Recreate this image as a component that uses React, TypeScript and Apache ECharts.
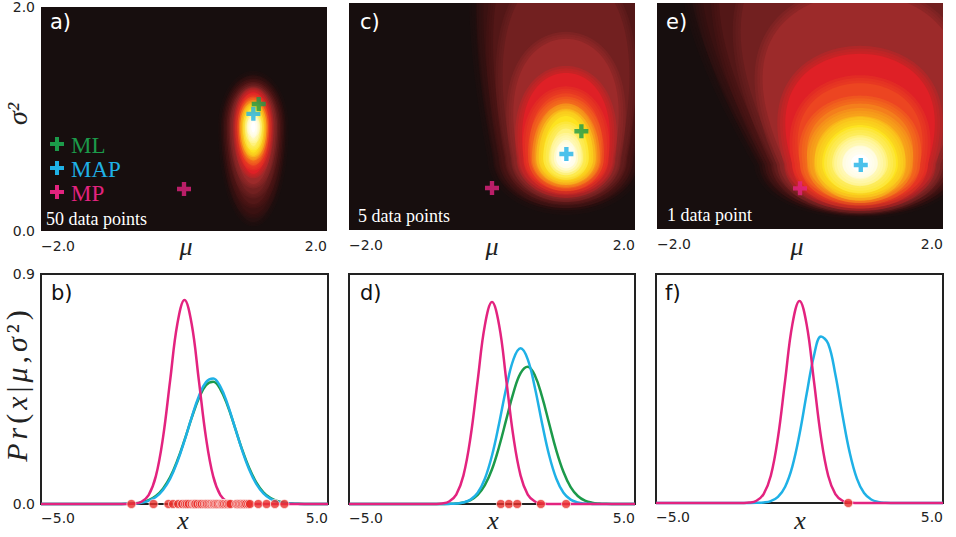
import { useEffect, useRef } from 'react';
import * as echarts from 'echarts';

// x positions at which every density curve in the bottom row is sampled
const X_SAMPLES = [-5, -3, -2.75, -2.5, -2.25, -2, -1.75, -1.5, -1.25, -1, -0.75, -0.5, -0.25, 0, 0.25, 0.5, 0.75, 1, 1.25, 1.5, 1.75, 2, 2.25, 2.5, 2.75, 3, 3.25, 3.5, 3.75, 4, 4.25, 4.5, 5];

// densities, 50 data points
const B_MP = [0, 0, 0, 0, 0, 0.0003, 0.0017, 0.0089, 0.035, 0.108, 0.259, 0.484, 0.704, 0.798, 0.704, 0.484, 0.259, 0.108, 0.035, 0.0089, 0.0017, 0.0003, 0, 0, 0, 0, 0, 0, 0, 0, 0, 0, 0];
const B_ML = [0, 0, 0, 0.0001, 0.0003, 0.0009, 0.0025, 0.0064, 0.0147, 0.031, 0.06, 0.105, 0.17, 0.25, 0.337, 0.414, 0.465, 0.478, 0.449, 0.385, 0.302, 0.216, 0.142, 0.085, 0.046, 0.023, 0.0106, 0.0044, 0.0017, 0.0006, 0.0002, 0, 0];
const B_MAP = [0, 0, 0, 0, 0.0002, 0.0007, 0.0019, 0.0051, 0.0124, 0.027, 0.055, 0.099, 0.165, 0.248, 0.339, 0.422, 0.477, 0.491, 0.459, 0.391, 0.302, 0.213, 0.136, 0.079, 0.042, 0.02, 0.0088, 0.0035, 0.0013, 0.0004, 0.0001, 0, 0];

// densities, 5 data points
const D_MP = [0, 0, 0, 0, 0, 0.0003, 0.002, 0.0096, 0.037, 0.111, 0.262, 0.484, 0.699, 0.79, 0.699, 0.484, 0.262, 0.111, 0.037, 0.0096, 0.002, 0.0003, 0, 0, 0, 0, 0, 0, 0, 0, 0, 0, 0];
const D_ML = [0, 0, 0, 0, 0, 0, 0.0002, 0.0006, 0.002, 0.0059, 0.0154, 0.0357, 0.0738, 0.136, 0.225, 0.331, 0.436, 0.512, 0.537, 0.503, 0.42, 0.314, 0.209, 0.125, 0.066, 0.0314, 0.0133, 0.005, 0.0017, 0.0005, 0.0001, 0, 0];
const D_MAP = [0, 0, 0, 0, 0, 0, 0.0001, 0.0004, 0.0017, 0.0058, 0.017, 0.044, 0.099, 0.19, 0.316, 0.455, 0.566, 0.609, 0.566, 0.455, 0.316, 0.19, 0.099, 0.044, 0.017, 0.0058, 0.0017, 0.0004, 0.0001, 0, 0, 0, 0];

// densities, 1 data point
const F_MP = [0, 0, 0, 0, 0, 0.0003, 0.0017, 0.0088, 0.035, 0.107, 0.258, 0.482, 0.701, 0.794, 0.701, 0.482, 0.258, 0.107, 0.035, 0.0088, 0.0017, 0.0003, 0, 0, 0, 0, 0, 0, 0, 0, 0, 0, 0];
const F_MAP = [0, 0, 0, 0, 0, 0, 0, 0.0005, 0.0021, 0.0077, 0.024, 0.064, 0.143, 0.27, 0.429, 0.577, 0.654, 0.626, 0.505, 0.344, 0.198, 0.096, 0.039, 0.0136, 0.004, 0.001, 0.0002, 0, 0, 0, 0, 0, 0];

// observed samples
const POINTS_50 = [-1.85, -1.08, -0.56, -0.4, -0.22, -0.08, 0.02, 0.08, 0.15, 0.25, 0.32, 0.35, 0.38, 0.45, 0.54, 0.6, 0.68, 0.74, 0.78, 0.84, 0.9, 0.95, 1.0, 1.02, 1.07, 1.12, 1.16, 1.22, 1.27, 1.3, 1.33, 1.38, 1.44, 1.49, 1.55, 1.6, 1.8, 1.85, 1.9, 1.95, 2.0, 2.05, 2.1, 2.15, 2.22, 2.28, 2.57, 2.86, 3.15, 3.48];
const POINTS_5 = [0.31, 0.59, 0.88, 1.71, 2.59];
const POINTS_1 = [1.7];

// posterior over (mu, sigma^2) as nested bands, outermost first:
// [half-width in mu, extent below centre, extent above centre, upward flare]
const POST_A_CENTER = [0.97, 0.93];
const POST_A_BANDS = [
  [0.43, 0.85, 0.46, 0], [0.39, 0.78, 0.42, 0], [0.35, 0.69, 0.39, 0], [0.31, 0.6, 0.36, 0],
  [0.27, 0.51, 0.33, 0], [0.22, 0.42, 0.31, 0], [0.19, 0.35, 0.26, 0], [0.16, 0.3, 0.23, 0],
  [0.14, 0.26, 0.2, 0], [0.12, 0.23, 0.175, 0], [0.085, 0.17, 0.12, 0], [0.055, 0.105, 0.08, 0],
  [0.03, 0.05, 0.045, 0],
];
const POST_C_CENTER = [1.035, 0.634];
const POST_C_BANDS = [
  [1.0, 0.44, 2.98, 0.9], [0.92, 0.4, 2.63, 0.9], [0.84, 0.38, 2.19, 0.8], [0.755, 0.35, 1.67, 0.7],
  [0.67, 0.325, 1.05, 0.5], [0.59, 0.29, 0.75, 0.3], [0.5, 0.255, 0.57, 0.2], [0.43, 0.23, 0.48, 0.1],
  [0.38, 0.2, 0.42, 0], [0.32, 0.175, 0.37, 0], [0.22, 0.13, 0.26, 0], [0.14, 0.09, 0.16, 0],
  [0.07, 0.05, 0.08, 0],
];
const POST_E_CENTER = [0.84, 0.58];
const POST_E_BANDS = [
  [1.37, 0.42, 3.0, 2], [1.3, 0.4, 2.83, 1.9], [1.22, 0.39, 2.57, 1.7], [1.13, 0.38, 2.12, 1.4],
  [1.05, 0.37, 1.5, 1.0], [0.95, 0.35, 0.97, 0.5], [0.84, 0.33, 0.71, 0.3], [0.73, 0.3, 0.53, 0.2],
  [0.63, 0.28, 0.42, 0.1], [0.53, 0.26, 0.34, 0], [0.39, 0.195, 0.25, 0], [0.25, 0.13, 0.16, 0],
  [0.13, 0.07, 0.08, 0],
];

// point estimates [mu, sigma^2]
const A_ML = [1.045, 1.134];
const A_MAP = [0.97, 1.046];
const A_MP = [0.0, 0.375];
const C_ML_EST = [1.25, 0.87];
const C_MAP_EST = [1.04, 0.67];
const C_MP_EST = [0.0, 0.37];
const E_MAP = [0.85, 0.566];
const E_MP = [0.0, 0.36];

// colour of each band, outermost first
const LEVEL_COLORS = ['#261010', '#3a1111', '#531717', '#722020', '#9c2a2a', '#df2026', '#ec4521', '#f47e1c', '#f9b51a', '#fde320', '#fff27c', '#fffbd4', '#ffffff'];
const COL_ML = '#1c9a4a';
const COL_MAP = '#1fb1e6';
const COL_MP = '#e3237f';
const COL_DOT = '#e8302a';
const HEAT_BG = '#170e0e';

const PLUS = 'path://M5.5,0H10.5V5.5H16V10.5H10.5V16H5.5V10.5H0V5.5H5.5Z';
const SERIF = '"Liberation Serif", "Times New Roman", serif';
const SANS = '"DejaVu Sans", sans-serif';

const fmt = (v: number) => v.toFixed(1).replace('-', '\u2212');

const TOP_GRIDS = [
  { left: 41, top: 3, width: 286, height: 228 },
  { left: 349, top: 3, width: 286, height: 227 },
  { left: 657, top: 3, width: 286, height: 226 },
];
const BOTTOM_GRIDS = [
  { left: 41, top: 274, width: 287, height: 230 },
  { left: 349, top: 274, width: 286, height: 230 },
  { left: 656, top: 274, width: 287, height: 229 },
];

// each band is filled, and feathered outward by a few translucent strokes
function bandSeries(idx: number, center: number[], bands: number[][], feather: number) {
  return {
    type: 'custom',
    xAxisIndex: idx,
    yAxisIndex: idx,
    clip: true,
    silent: true,
    data: bands.map((b, i) => [center[0], center[1], b[0], b[1], b[2], b[3], i]),
    renderItem: (_params: any, api: any) => {
      const c = api.coord([api.value(0), api.value(1)]);
      const wd = api.size([api.value(2), api.value(3)]);
      const up = api.size([0, api.value(4)])[1];
      const w = wd[0];
      const down = wd[1];
      const k = api.value(5);
      const pts: number[][] = [];
      const N = 140;
      for (let j = 0; j < N; j++) {
        const th = (j / N) * Math.PI * 2;
        const cs = Math.cos(th);
        const sn = Math.sin(th);
        if (sn >= 0) pts.push([c[0] + w * cs * (1 + k * sn), c[1] - up * sn]);
        else pts.push([c[0] + w * cs, c[1] - down * sn]);
      }
      const col = LEVEL_COLORS[api.value(6)];
      const strokes = [1, 0.66, 0.33].map((f) => ({
        type: 'polygon',
        shape: { points: pts },
        style: { fill: 'none', stroke: col, lineWidth: feather * f, strokeOpacity: 0.3, lineJoin: 'round' },
      }));
      return {
        type: 'group',
        children: [
          ...strokes,
          { type: 'polygon', shape: { points: pts }, style: { fill: col } },
        ],
      };
    },
  };
}

function markSeries(idx: number, pt: number[], color: string) {
  return {
    type: 'scatter',
    xAxisIndex: idx,
    yAxisIndex: idx,
    silent: true,
    clip: false,
    symbol: PLUS,
    symbolSize: 14,
    itemStyle: { color },
    z: 5,
    data: [pt],
  };
}

function curveSeries(idx: number, ys: number[], color: string, z: number) {
  return {
    type: 'line',
    xAxisIndex: idx,
    yAxisIndex: idx,
    silent: true,
    clip: false,
    smooth: 0.4,
    showSymbol: false,
    lineStyle: { color, width: 2.5 },
    z,
    data: X_SAMPLES.map((x, i) => [x, ys[i]]),
  };
}

function dotSeries(idx: number, xs: number[]) {
  return {
    type: 'scatter',
    xAxisIndex: idx,
    yAxisIndex: idx,
    silent: true,
    clip: false,
    symbolSize: 9,
    itemStyle: { color: COL_DOT, borderColor: '#ffffff', borderWidth: 0.8 },
    z: 6,
    data: xs.map((x) => [x, 0]),
  };
}

function text(x: number, y: number, t: string, font: string, fill: string, align = 'left') {
  return { type: 'text', x, y, silent: true, style: { text: t, font, fill, align, verticalAlign: 'middle' } };
}

function plusGlyph(cx: number, cy: number, color: string) {
  return {
    type: 'group',
    silent: true,
    children: [
      { type: 'rect', shape: { x: cx - 7, y: cy - 2, width: 14, height: 4 }, style: { fill: color } },
      { type: 'rect', shape: { x: cx - 2, y: cy - 7, width: 4, height: 14 }, style: { fill: color } },
    ],
  };
}

export default function App() {
  const ref = useRef<HTMLDivElement>(null);

  useEffect(() => {
    if (!ref.current) return;
    const chart = echarts.init(ref.current, undefined, { renderer: 'svg' });

    const grids = [
      ...TOP_GRIDS.map((g) => ({ ...g, show: true, backgroundColor: HEAT_BG, borderWidth: 0 })),
      ...BOTTOM_GRIDS.map((g) => ({ ...g, show: true, backgroundColor: 'transparent', borderColor: '#222', borderWidth: 2 })),
    ];

    const axisLabel = (show: boolean, margin: number) => ({
      show,
      formatter: fmt,
      fontSize: 14,
      fontFamily: SANS,
      color: '#222',
      margin,
      alignMinLabel: 'left',
      alignMaxLabel: 'right',
    });
    const yLabel = (show: boolean, margin: number) => ({
      show,
      formatter: fmt,
      fontSize: 14,
      fontFamily: SANS,
      color: '#222',
      margin,
    });
    const bare = { axisLine: { show: false }, axisTick: { show: false }, splitLine: { show: false } };

    const xAxes = [
      ...[0, 1, 2].map((i) => ({ type: 'value', gridIndex: i, min: -2, max: 2, interval: 4, ...bare, axisLabel: axisLabel(true, 8) })),
      ...[3, 4, 5].map((i) => ({ type: 'value', gridIndex: i, min: -5, max: 5, interval: 10, ...bare, axisLabel: axisLabel(true, 7) })),
    ];
    const yAxes = [
      ...[0, 1, 2].map((i) => ({ type: 'value', gridIndex: i, min: 0, max: 2, interval: 2, ...bare, axisLabel: yLabel(i === 0, 6) })),
      ...[3, 4, 5].map((i) => ({ type: 'value', gridIndex: i, min: 0, max: 0.9, interval: 0.9, ...bare, axisLabel: yLabel(i === 3, 6) })),
    ];

    const series = [
      bandSeries(0, POST_A_CENTER, POST_A_BANDS, 9),
      bandSeries(1, POST_C_CENTER, POST_C_BANDS, 14),
      bandSeries(2, POST_E_CENTER, POST_E_BANDS, 16),
      markSeries(0, A_ML, COL_ML),
      markSeries(0, A_MAP, COL_MAP),
      markSeries(0, A_MP, COL_MP),
      markSeries(1, C_ML_EST, COL_ML),
      markSeries(1, C_MAP_EST, COL_MAP),
      markSeries(1, C_MP_EST, COL_MP),
      markSeries(2, E_MAP, COL_MAP),
      markSeries(2, E_MP, COL_MP),
      curveSeries(3, B_ML, COL_ML, 2),
      curveSeries(3, B_MAP, COL_MAP, 3),
      curveSeries(3, B_MP, COL_MP, 4),
      curveSeries(4, D_ML, COL_ML, 2),
      curveSeries(4, D_MAP, COL_MAP, 3),
      curveSeries(4, D_MP, COL_MP, 4),
      curveSeries(5, F_MAP, COL_MAP, 3),
      curveSeries(5, F_MP, COL_MP, 4),
      dotSeries(3, POINTS_50),
      dotSeries(4, POINTS_5),
      dotSeries(5, POINTS_1),
    ];

    const letterFont = `21px ${SANS}`;
    const mathFont = `italic 26px ${SERIF}`;
    const captionFont = `18px ${SERIF}`;
    const legendFont = `23px ${SERIF}`;

    const ylab = { fontFamily: SERIF, fontSize: 30, fill: '#222', color: '#222', padding: [0, 2] };

    const graphic = [
      text(50, 22, 'a)', letterFont, '#ffffff'),
      text(360, 22, 'c)', letterFont, '#ffffff'),
      text(666, 22, 'e)', letterFont, '#ffffff'),
      text(51, 293, 'b)', letterFont, '#111111'),
      text(360, 293, 'd)', letterFont, '#111111'),
      text(665, 293, 'f)', letterFont, '#111111'),
      text(46, 219, '50 data points', captionFont, '#ffffff'),
      text(358, 216, '5 data points', captionFont, '#ffffff'),
      text(667, 215, '1 data point', captionFont, '#ffffff'),
      plusGlyph(57, 144, COL_ML),
      plusGlyph(57, 168, COL_MAP),
      plusGlyph(57, 192, COL_MP),
      text(71, 145, 'ML', legendFont, COL_ML),
      text(71, 169, 'MAP', legendFont, COL_MAP),
      text(71, 193, 'MP', legendFont, COL_MP),
      text(186, 246, '\u03bc', mathFont, '#222', 'center'),
      text(492, 246, '\u03bc', mathFont, '#222', 'center'),
      text(797, 246, '\u03bc', mathFont, '#222', 'center'),
      text(183, 520, 'x', mathFont, '#222', 'center'),
      text(493, 520, 'x', mathFont, '#222', 'center'),
      text(800, 520, 'x', mathFont, '#222', 'center'),
      {
        type: 'text',
        x: 17,
        y: 114,
        rotation: Math.PI / 2,
        silent: true,
        style: { text: '\u03c3\u00b2', font: `italic 28px ${SERIF}`, fill: '#222', align: 'center', verticalAlign: 'middle' },
      },
      {
        type: 'text',
        x: 16,
        y: 386,
        rotation: Math.PI / 2,
        silent: true,
        style: {
          text: '{i|P}{i|r}{n|(}{i|x}{n||}{i|\u03bc}{n|,}{i|\u03c3}{n|\u00b2}{n|)}',
          align: 'center',
          verticalAlign: 'middle',
          fill: '#222',
          rich: {
            i: { ...ylab, fontStyle: 'italic' },
            n: { ...ylab },
          },
        },
      },
    ];

    chart.setOption({
      animation: false,
      backgroundColor: '#ffffff',
      grid: grids,
      xAxis: xAxes,
      yAxis: yAxes,
      series,
      graphic,
    });

    return () => chart.dispose();
  }, []);

  return <div ref={ref} style={{ position: 'fixed', left: 0, top: 0, width: 956, height: 537 }} />;
}
